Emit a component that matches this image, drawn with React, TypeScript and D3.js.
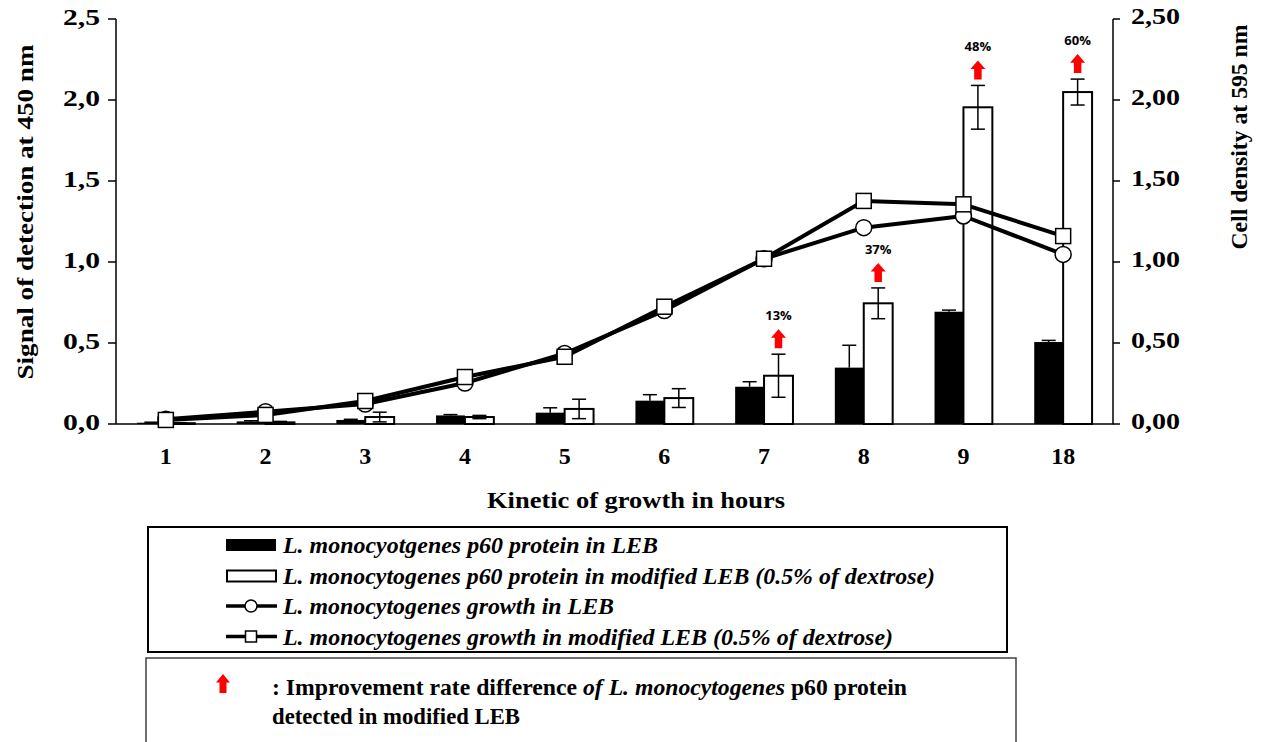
import React from "react";
import * as d3 from "d3";

const hours = ["1", "2", "3", "4", "5", "6", "7", "8", "9", "18"];
const p60LEB = [0.008, 0.016, 0.025, 0.053, 0.07, 0.144, 0.23, 0.348, 0.693, 0.506];
const p60LEBErr = [0.003, 0.004, 0.004, 0.005, 0.03, 0.037, 0.031, 0.138, 0.01, 0.01];
const p60Mod = [0.005, 0.01, 0.043, 0.043, 0.093, 0.16, 0.298, 0.745, 1.955, 2.049];
const p60ModErr = [0.003, 0.006, 0.03, 0.01, 0.06, 0.058, 0.133, 0.095, 0.135, 0.08];
const growthLEB = [0.03, 0.076, 0.123, 0.253, 0.435, 0.7, 1.02, 1.212, 1.284, 1.047];
const growthMod = [0.025, 0.056, 0.142, 0.29, 0.415, 0.724, 1.02, 1.377, 1.356, 1.16];
const improvementHours = ["7", "8", "9", "18"];
const improvementLabels = ["13%", "37%", "48%", "60%"];
const leftTicks = [0, 0.5, 1, 1.5, 2, 2.5];
const leftTickLabels = ["0,0", "0,5", "1,0", "1,5", "2,0", "2,5"];
const rightTicks = [0, 0.5, 1, 1.5, 2, 2.5];
const rightTickLabels = ["0,00", "0,50", "1,00", "1,50", "2,00", "2,50"];
const legendLabels = [
  "L. monocyotgenes p60 protein in LEB",
  "L. monocytogenes p60 protein in modified LEB (0.5% of dextrose)",
  "L. monocytogenes growth in LEB",
  "L. monocytogenes growth in modified LEB (0.5% of dextrose)",
];
const legendWidths = [375, 652, 331, 610];

const W = 1261;
const H = 742;
const left = 116;
const right = 1113;
const top = 19;
const bottom = 424;
const serif = "'Liberation Serif', 'Times New Roman', serif";

function Arrow({ cx, by, w = 15, h = 19 }: { cx: number; by: number; w?: number; h?: number }) {
  const head = h * 0.45;
  const sw = w * 0.5;
  const d = `M${cx},${by - h} L${cx + w / 2},${by - h + head} L${cx + sw / 2},${by - h + head} L${cx + sw / 2},${by} L${cx - sw / 2},${by} L${cx - sw / 2},${by - h + head} L${cx - w / 2},${by - h + head} Z`;
  return <path d={d} fill="#ff0000" />;
}

export default function App() {
  const x = d3.scaleBand().domain(hours).range([left, right]).paddingInner(0).paddingOuter(0);
  const y = d3.scaleLinear().domain([0, 2.5]).range([bottom, top]);
  const y2 = d3.scaleLinear().domain([0, 2.5]).range([bottom, top]);
  const bw = x.bandwidth() * 0.29;
  const cx = (h: string) => (x(h) as number) + x.bandwidth() / 2;
  const capW = 7;

  const line = d3
    .line<number>()
    .x((_, i) => cx(hours[i]))
    .y((d) => y2(d));

  return (
    <svg width={W} height={H} style={{ position: "absolute", left: 0, top: 0, background: "#fff" }}>
      {/* Bars */}
      {hours.map((h, i) => {
        const c = cx(h);
        return (
          <g key={"b" + h}>
            <rect x={c - bw} y={y(p60LEB[i])} width={bw} height={bottom - y(p60LEB[i])} fill="#000" />
            <line x1={c - bw / 2} x2={c - bw / 2} y1={y(p60LEB[i] + p60LEBErr[i])} y2={y(p60LEB[i])} stroke="#000" strokeWidth={1.5} />
            <line x1={c - bw / 2 - capW} x2={c - bw / 2 + capW} y1={y(p60LEB[i] + p60LEBErr[i])} y2={y(p60LEB[i] + p60LEBErr[i])} stroke="#000" strokeWidth={1.5} />
            <rect x={c} y={y(p60Mod[i])} width={bw} height={bottom - y(p60Mod[i])} fill="#fff" stroke="#000" strokeWidth={2} />
            <line x1={c + bw / 2} x2={c + bw / 2} y1={y(p60Mod[i] + p60ModErr[i])} y2={y(Math.max(0, p60Mod[i] - p60ModErr[i]))} stroke="#000" strokeWidth={1.5} />
            <line x1={c + bw / 2 - capW} x2={c + bw / 2 + capW} y1={y(p60Mod[i] + p60ModErr[i])} y2={y(p60Mod[i] + p60ModErr[i])} stroke="#000" strokeWidth={1.5} />
            <line x1={c + bw / 2 - capW} x2={c + bw / 2 + capW} y1={y(Math.max(0, p60Mod[i] - p60ModErr[i]))} y2={y(Math.max(0, p60Mod[i] - p60ModErr[i]))} stroke="#000" strokeWidth={1.5} />
          </g>
        );
      })}

      {/* Axes */}
      <line x1={left} x2={left} y1={top} y2={bottom} stroke="#000" strokeWidth={1.5} />
      <line x1={right} x2={right} y1={top} y2={bottom} stroke="#000" strokeWidth={1.5} />
      <line x1={left} x2={right + 1} y1={bottom} y2={bottom} stroke="#000" strokeWidth={1.5} />
      {leftTicks.map((t, i) => (
        <g key={"lt" + t}>
          <line x1={left - 8} x2={left} y1={y(t)} y2={y(t)} stroke="#000" strokeWidth={1.5} />
          <text x={100} y={y(t) + 6} textAnchor="end" fontFamily={serif} fontWeight="bold" fontSize={24} textLength={37} lengthAdjust="spacingAndGlyphs">
            {leftTickLabels[i]}
          </text>
        </g>
      ))}
      {rightTicks.map((t, i) => (
        <g key={"rt" + t}>
          <line x1={right} x2={right + 7} y1={y2(t)} y2={y2(t)} stroke="#000" strokeWidth={1.5} />
          <text x={1131} y={y2(t) + 5} textAnchor="start" fontFamily={serif} fontWeight="bold" fontSize={24} textLength={49} lengthAdjust="spacingAndGlyphs">
            {rightTickLabels[i]}
          </text>
        </g>
      ))}
      {hours.map((h) => (
        <text key={"xt" + h} x={cx(h)} y={464} textAnchor="middle" fontFamily={serif} fontWeight="bold" fontSize={24}>
          {h}
        </text>
      ))}
      <text x={636} y={508} textAnchor="middle" fontFamily={serif} fontWeight="bold" fontSize={23} textLength={298} lengthAdjust="spacingAndGlyphs">
        Kinetic of growth in hours
      </text>
      <text transform="translate(33,212) rotate(-90)" textAnchor="middle" fontFamily={serif} fontWeight="bold" fontSize={23} textLength={335} lengthAdjust="spacingAndGlyphs">
        Signal of detection at 450 nm
      </text>
      <text transform="translate(1247,137) rotate(-90)" textAnchor="middle" fontFamily={serif} fontWeight="bold" fontSize={23} textLength={225} lengthAdjust="spacingAndGlyphs">
        Cell density at 595 nm
      </text>

      {/* Lines */}
      <path d={line(growthLEB) || ""} fill="none" stroke="#000" strokeWidth={4} strokeLinejoin="round" />
      {growthLEB.map((v, i) => (
        <circle key={"c" + i} cx={cx(hours[i])} cy={y2(v)} r={8} fill="#fff" stroke="#000" strokeWidth={1.5} />
      ))}
      <path d={line(growthMod) || ""} fill="none" stroke="#000" strokeWidth={4} strokeLinejoin="round" />
      {growthMod.map((v, i) => (
        <rect key={"s" + i} x={cx(hours[i]) - 7.5} y={y2(v) - 7.5} width={15} height={15} fill="#fff" stroke="#000" strokeWidth={1.5} />
      ))}

      {/* Improvement arrows */}
      {improvementHours.map((h, k) => {
        const i = hours.indexOf(h);
        const ax = cx(h) + bw / 2;
        const errTop = y(p60Mod[i] + p60ModErr[i]);
        const by = errTop - 6;
        return (
          <g key={"imp" + h}>
            <Arrow cx={ax} by={by} />
            <text x={ax} y={by - 19 - 9} textAnchor="middle" fontFamily="'Open Sans', sans-serif" fontWeight="bold" fontSize={13}>
              {improvementLabels[k]}
            </text>
          </g>
        );
      })}

      {/* Legend box 1 */}
      <rect x={148} y={527} width={859} height={125} fill="#fff" stroke="#000" strokeWidth={2} />
      {legendLabels.map((lab, i) => {
        const cy = 545 + i * 30.5;
        return (
          <g key={"lg" + i}>
            {i === 0 && <rect x={226} y={cy - 6} width={50} height={12} fill="#000" />}
            {i === 1 && <rect x={227} y={cy - 5} width={49} height={11} fill="#fff" stroke="#000" strokeWidth={2} />}
            {i >= 2 && <line x1={226} x2={277} y1={cy} y2={cy} stroke="#000" strokeWidth={3.5} />}
            {i === 2 && <circle cx={251} cy={cy} r={6} fill="#fff" stroke="#000" strokeWidth={1.5} />}
            {i === 3 && <rect x={245.5} y={cy - 5.5} width={11} height={11} fill="#fff" stroke="#000" strokeWidth={1.5} />}
            <text x={283} y={cy + 8} fontFamily={serif} fontWeight="bold" fontStyle="italic" fontSize={23} textLength={legendWidths[i]} lengthAdjust="spacingAndGlyphs">
              {lab}
            </text>
          </g>
        );
      })}

      {/* Legend box 2 */}
      <rect x={146} y={658} width={870} height={100} fill="#fff" stroke="#404040" strokeWidth={1.5} />
      <Arrow cx={223} by={693} w={14} h={19} />
      <text x={272} y={695} fontFamily={serif} fontWeight="bold" fontSize={23} textLength={635} lengthAdjust="spacingAndGlyphs">
        <tspan>: Improvement rate difference </tspan>
        <tspan fontStyle="italic">of L. monocytogenes</tspan>
        <tspan> p60 protein</tspan>
      </text>
      <text x={272} y={724} fontFamily={serif} fontWeight="bold" fontSize={23} textLength={248} lengthAdjust="spacingAndGlyphs">
        detected in modified LEB
      </text>
    </svg>
  );
}
